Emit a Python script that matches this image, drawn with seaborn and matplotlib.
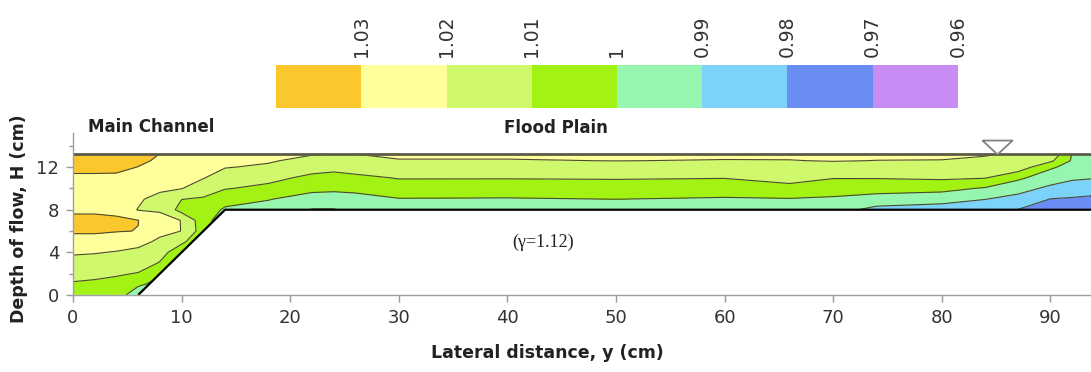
import numpy as np
import matplotlib
matplotlib.use("Agg")
import matplotlib.pyplot as plt
import seaborn as sns
from matplotlib.colors import ListedColormap, BoundaryNorm

nan = np.nan

# Measuring grid: lateral stations y (cm) and depths H (cm)
lateral_y = [0, 2, 4, 6, 8, 10, 12, 14, 18, 22, 24, 26, 30, 40, 50, 60,
             66, 70, 74, 80, 84, 87, 90, 92, 94]
depth_h = [0, 1, 2, 3, 4, 5, 6, 7, 8, 9, 10, 11, 12, 12.6, 13.2]

# Normalised velocity ratio along each vertical (bottom -> water surface)
at_y0 = [1.005, 1.009, 1.013, 1.017, 1.021, 1.027, 1.031, 1.033, 1.028, 1.024, 1.025, 1.028, 1.033, 1.035, 1.036]
at_y2 = [1.004, 1.008, 1.0125, 1.0165, 1.0205, 1.027, 1.031, 1.033, 1.028, 1.024, 1.025, 1.028, 1.033, 1.035, 1.036]
at_y4 = [1.003, 1.007, 1.011, 1.015, 1.0195, 1.024, 1.0305, 1.032, 1.027, 1.024, 1.025, 1.028, 1.0325, 1.035, 1.036]
at_y6 = [0.996, 1.001, 1.0095, 1.014, 1.018, 1.0225, 1.0298, 1.0302, 1.0195, 1.022, 1.024, 1.027, 1.0298, 1.032, 1.034]
at_y8 = [0.997, 0.998, 1.001, 1.0095, 1.013, 1.0185, 1.022, 1.0215, 1.0195, 1.015, 1.023, 1.024, 1.027, 1.0285, 1.0298]
at_y10 = [nan, nan, 1.002, 1.003, 1.005, 1.0115, 1.0199, 1.0199, 1.006, 1.0102, 1.0203, 1.0235, 1.026, 1.027, 1.028]
at_y12 = [nan, nan, nan, nan, 1.003, 1.004, 1.005, 1.004, 1.006, 1.009, 1.0145, 1.0205, 1.024, 1.025, 1.026]
at_y14 = [nan, nan, nan, nan, nan, nan, 0.997, 0.994, 0.9985, 1.004, 1.0105, 1.015, 1.0205, 1.022, 1.023]
at_y18 = [nan] * 8 + [0.996, 1.0005, 1.0078, 1.0125, 1.0185, 1.021, 1.022]
at_y22 = [nan] * 8 + [0.9895, 0.996, 1.0025, 1.008, 1.0135, 1.017, 1.0205]
at_y24 = [nan] * 8 + [0.9895, 0.9955, 1.002, 1.007, 1.0125, 1.017, 1.0195]
at_y26 = [nan] * 8 + [0.993, 0.996, 1.003, 1.008, 1.014, 1.0175, 1.0199]
at_y30 = [nan] * 8 + [0.994, 0.9995, 1.006, 1.0105, 1.0165, 1.0195, 1.0215]
at_y40 = [nan] * 8 + [0.994, 0.9993, 1.0055, 1.0105, 1.016, 1.0196, 1.0212]
at_y50 = [nan] * 8 + [0.9935, 1.0001, 1.0055, 1.0108, 1.0165, 1.0201, 1.0215]
at_y60 = [nan] * 8 + [0.994, 0.999, 1.0052, 1.0103, 1.016, 1.0197, 1.0213]
at_y66 = [nan] * 8 + [0.994, 0.9995, 1.007, 1.0135, 1.017, 1.0198, 1.0212]
at_y70 = [nan] * 8 + [0.994, 0.9985, 1.005, 1.0104, 1.0172, 1.0203, 1.0215]
at_y74 = [nan] * 8 + [0.987, 0.996, 1.004, 1.0105, 1.016, 1.0199, 1.0213]
at_y80 = [nan] * 8 + [0.985, 0.994, 1.003, 1.0115, 1.016, 1.0198, 1.0212]
at_y84 = [nan] * 8 + [0.9845, 0.9902, 0.999, 1.0105, 1.0155, 1.0188, 1.0205]
at_y87 = [nan] * 8 + [0.9798, 0.987, 0.9935, 1.002, 1.016, 1.0175, 1.019]
at_y90 = [nan] * 8 + [0.976, 0.9798, 0.988, 0.9945, 1.0015, 1.012, 1.018]
at_y92 = [nan] * 8 + [0.975, 0.979, 0.9855, 0.9915, 0.9965, 0.999, 0.9995]
at_y94 = [nan] * 8 + [0.974, 0.978, 0.984, 0.9905, 0.994, 0.996, 0.997]

verticals = [at_y0, at_y2, at_y4, at_y6, at_y8, at_y10, at_y12, at_y14, at_y18,
             at_y22, at_y24, at_y26, at_y30, at_y40, at_y50, at_y60, at_y66,
             at_y70, at_y74, at_y80, at_y84, at_y87, at_y90, at_y92, at_y94]

# Contour classes and legend
ratio_levels = [0.96, 0.97, 0.98, 0.99, 1.00, 1.01, 1.02, 1.03, 1.04]
legend_ticks = [1.03, 1.02, 1.01, 1, 0.99, 0.98, 0.97, 0.96]
band_colors = ["#C88CF5", "#698CF5", "#7DD2FA", "#96F5AE",
               "#A2F314", "#CFF86C", "#FFFF9C", "#FAC82C"]

# Channel geometry (compound section)
bed_y = [0, 6, 14, 94]
bed_h = [0, 0, 8, 8]
water_surface = 13.2
surface_mark_y = 85.05

sns.set_theme(style="ticks")
plt.rcParams["font.family"] = ["DejaVu Sans"]

fig = plt.figure(figsize=(10.91, 3.72), dpi=100)
ax = fig.add_axes([73 / 1091, 77 / 372, 1018 / 1091, 162 / 372])

X, Y = np.meshgrid(lateral_y, depth_h)
Z = np.ma.masked_invalid(np.column_stack(verticals))
cmap = ListedColormap(band_colors)
norm = BoundaryNorm(ratio_levels, cmap.N)

cf = ax.contourf(X, Y, Z, levels=ratio_levels, cmap=cmap, norm=norm, zorder=1)
ax.contour(X, Y, Z, levels=ratio_levels[1:-1], colors="#4a4a30",
           linewidths=0.8, zorder=2)

# blank out the ground below the channel bed
ax.fill_between(bed_y, bed_h, -1, color="white", zorder=3)
ax.plot(bed_y[1:], bed_h[1:], color="black", lw=1.6, zorder=4,
        solid_capstyle="butt")
ax.axhline(water_surface, color="#5b5b48", lw=2, zorder=4)

# water-surface symbol
tri = [(-1, 0.93), (1, 0.93), (0, 0), (-1, 0.93)]
ax.plot([surface_mark_y], [water_surface], marker=tri, ms=21.6, mfc="white",
        mec="#808080", mew=1.3, ls="none", zorder=6, clip_on=False)

ax.set_xlim(0, 93.74)
ax.set_ylim(0, 15.2)
ax.set_xticks(range(0, 91, 10))
ax.set_yticks([0, 4, 8, 12])
ax.set_yticks([2, 6, 10, 14], minor=True)
ax.tick_params(axis="both", which="major", colors="#9a9a9a", labelcolor="#333333",
               labelsize=13, length=5, width=1, pad=5)
ax.tick_params(axis="y", which="minor", colors="#9a9a9a", length=3, width=1)
sns.despine(ax=ax)
for side in ("left", "bottom"):
    ax.spines[side].set_color("#a0a0a0")
    ax.spines[side].set_linewidth(1)
    ax.spines[side].set_zorder(5)

ax.set_xlabel("Lateral distance, y (cm)", fontsize=12.5, fontweight="bold",
              color="#222222")
ax.xaxis.set_label_coords(0.4656, -0.302)
ax.set_ylabel("Depth of flow, H (cm)", fontsize=12.5, fontweight="bold",
              color="#222222")
ax.yaxis.set_label_coords(-0.044, 0.47)

ax.text(7.2, 15.75, "Main Channel", ha="center", va="center", fontsize=12,
        fontweight="bold", color="#222222", clip_on=False)
ax.text(44.5, 15.7, "Flood Plain", ha="center", va="center", fontsize=12,
        fontweight="bold", color="#222222", clip_on=False)
ax.text(43.3, 4.9, "(\u03b3=1.12)", ha="center", va="center", fontsize=13,
        family=["Liberation Serif", "DejaVu Serif"], color="#222222")

# legend bar, highest class on the left
cax = fig.add_axes([276 / 1091, 1 - 108 / 372, 682 / 1091, 43 / 372])
cb = fig.colorbar(cf, cax=cax, orientation="horizontal", ticks=legend_ticks,
                  drawedges=True)
cax.invert_xaxis()
cax.minorticks_off()
cax.xaxis.set_ticks_position("top")
cb.set_ticklabels([f"{t:g}" for t in legend_ticks])
cax.tick_params(which="both", length=0, labelsize=13.5, labelrotation=90, pad=6,
                labelcolor="#333333")
cb.outline.set_visible(False)
cb.dividers.set_color("#b0b0b0")
cb.dividers.set_linewidth(0.6)

fig.savefig("out.png", dpi=100)
